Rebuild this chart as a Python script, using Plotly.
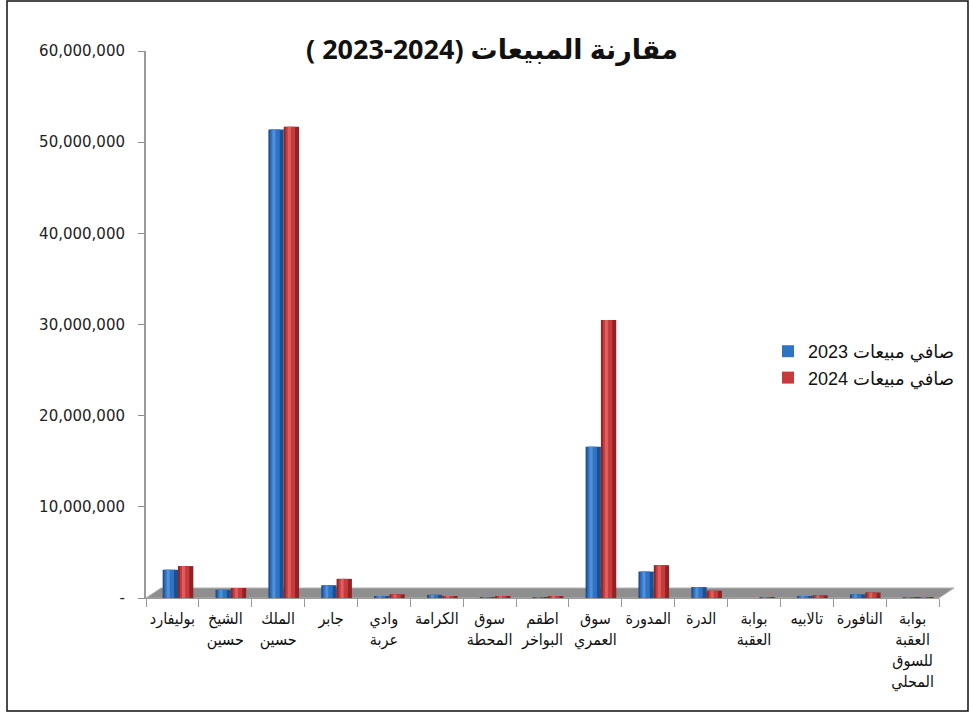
import plotly.graph_objects as go

# ---------------- data ----------------
categories = ["بوليفارد", "الشيخ حسين", "الملك حسين", "جابر", "وادي عربة",
              "الكرامة", "سوق المحطة", "اطقم البواخر", "سوق العمري", "المدورة",
              "الدرة", "بوابة العقبة", "تالابيه", "النافورة",
              "بوابة العقبة للسوق المحلي"]
sales_2023 = [3.1e6, 0.9e6, 51.4e6, 1.4e6, 0.2e6, 0.35e6, 0.1e6, 0.1e6,
              16.6e6, 2.9e6, 1.2e6, 0.0, 0.2e6, 0.4e6, 0.1e6]
sales_2024 = [3.5e6, 1.1e6, 51.7e6, 2.1e6, 0.4e6, 0.2e6, 0.2e6, 0.15e6,
              30.5e6, 3.6e6, 0.8e6, 0.05e6, 0.3e6, 0.6e6, 0.1e6]
series_names = ["صافي مبيعات 2023", "صافي مبيعات 2024"]
title_text = "مقارنة المبيعات (2024-2023 )"
y_tick_values = [0, 10e6, 20e6, 30e6, 40e6, 50e6, 60e6]
y_tick_labels = ["-", "10,000,000", "20,000,000", "30,000,000",
                 "40,000,000", "50,000,000", "60,000,000"]

RLM = "\u200F"
def rtl(s):
    return RLM + s + RLM

# ---------------- layout geometry ----------------
W, H = 970, 712
ML, MR, MT, MB = 146, 31, 51, 114
PW, PH = W - ML - MR, H - MT - MB

tick_text = [c.replace(" ", "<br>") for c in categories]

styles = [
    dict(edge="#1d4f91", mid="#2f74c4", hi="#5b97dc", offset=-0.185),
    dict(edge="#8f2326", mid="#c93a3c", hi="#e06a68", offset=0.105),
]
bw = 0.29

fig = go.Figure()
for vals, name, st, grp in zip([sales_2023, sales_2024], series_names, styles, ["a", "b"]):
    fig.add_trace(go.Bar(x=categories, y=vals, offset=st["offset"], width=bw,
                         marker=dict(color=st["edge"], line=dict(width=0)),
                         showlegend=False, legendgroup=grp, hoverinfo="skip"))
    fig.add_trace(go.Bar(x=categories, y=vals, offset=st["offset"] + 0.12 * bw,
                         width=0.62 * bw, name=rtl(name),
                         marker=dict(color=st["mid"], line=dict(width=0)),
                         showlegend=True, legendgroup=grp))
    fig.add_trace(go.Bar(x=categories, y=vals, offset=st["offset"] + 0.26 * bw,
                         width=0.2 * bw,
                         marker=dict(color=st["hi"], line=dict(width=0), opacity=0.8),
                         showlegend=False, legendgroup=grp, hoverinfo="skip"))

# floor (3D base) and outer frame
dx = 15 / PW
dy = 10 / PH
shapes = [
    dict(type="path", xref="paper", yref="paper", layer="below",
         path=f"M 0,0 L 1,0 L {1+dx},{dy} L {dx},{dy} Z",
         fillcolor="#8e8e8e", line=dict(color="#b0b0b0", width=1)),
    dict(type="rect", xref="paper", yref="paper",
         x0=(7 - ML) / PW, x1=(968 - ML) / PW,
         y0=-(711 - MT - PH) / PH, y1=(MT + PH - 1) / PH,
         line=dict(color="#111111", width=1.5), fillcolor="rgba(0,0,0,0)"),
]

fig.update_layout(
    width=W, height=H,
    margin=dict(l=ML, r=MR, t=MT, b=MB, autoexpand=False),
    paper_bgcolor="white", plot_bgcolor="white",
    barmode="overlay",
    shapes=shapes,
    title=dict(text=rtl(title_text), x=492 / W, xanchor="center",
               y=1 - 50 / H, yanchor="middle",
               font=dict(family="Open Sans, DejaVu Sans", size=27,
                         color="#111111", weight="bold")),
    legend=dict(x=(768 - ML) / PW, y=(MT + PH - 333) / PH, xanchor="left", yanchor="top",
                font=dict(family="Liberation Sans, DejaVu Sans", size=18, color="#111111"),
                bgcolor="rgba(0,0,0,0)", tracegroupgap=0, itemwidth=30),
    xaxis=dict(type="category", tickmode="array", tickvals=categories, ticktext=tick_text,
               tickson="boundaries", ticks="outside", ticklen=8, tickcolor="#9a9a9a",
               showline=True, linecolor="#9a9a9a", linewidth=1, showgrid=False,
               tickangle=0, range=[-0.5, len(categories) - 0.5], ticklabelstandoff=6,
               tickfont=dict(family="DejaVu Sans Condensed, DejaVu Sans", size=16,
                             color="#111111")),
    yaxis=dict(range=[0, 60e6], tickmode="array", tickvals=y_tick_values,
               ticktext=y_tick_labels, ticks="outside", ticklen=6, tickcolor="#8c8c8c",
               showline=True, linecolor="#9a9a9a", linewidth=2, showgrid=False,
               zeroline=False, ticklabelstandoff=10,
               tickfont=dict(family="DejaVu Sans", size=15, color="#222222")),
)

fig.write_html("out.html", config={"displayModeBar": False},
               post_script="document.body.style.margin='0';document.body.style.overflow='hidden';")
